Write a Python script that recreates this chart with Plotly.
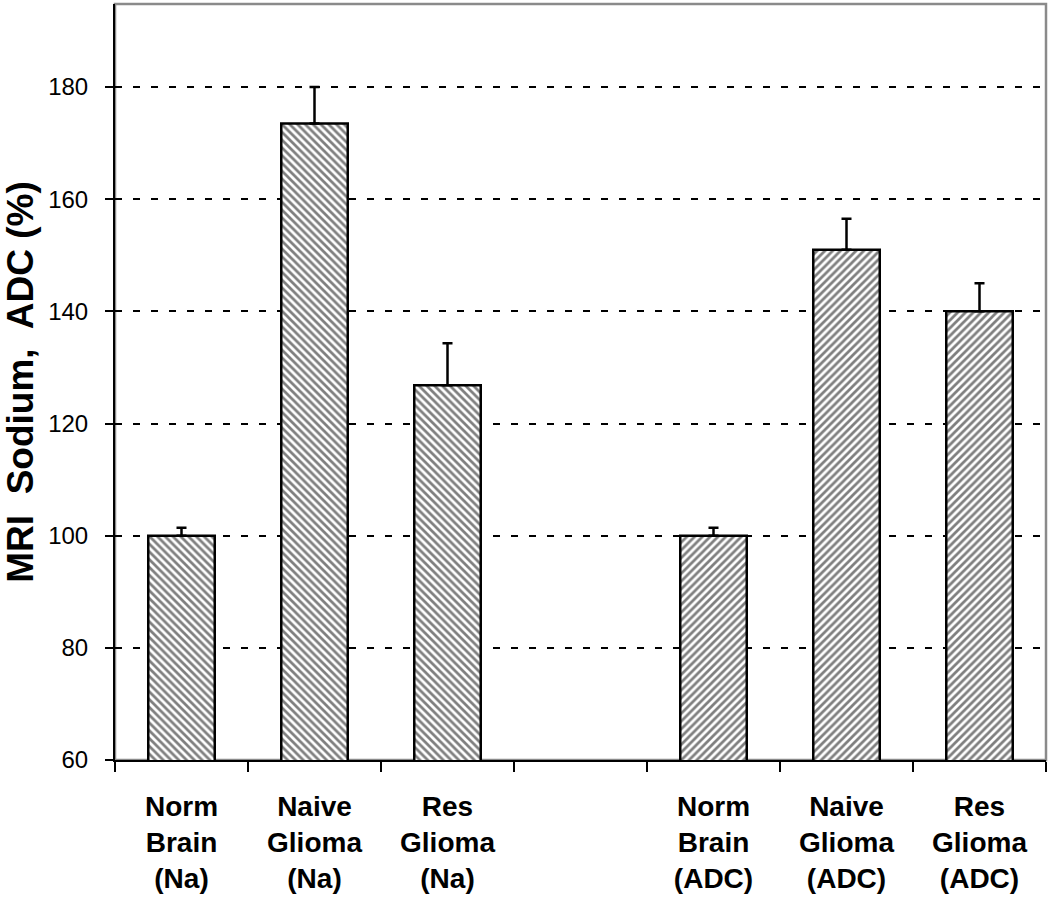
import plotly.graph_objects as go

categories = ["Norm<br>Brain<br>(Na)", "Naive<br>Glioma<br>(Na)", "Res<br>Glioma<br>(Na)", " ",
              "Norm<br>Brain<br>(ADC)", "Naive<br>Glioma<br>(ADC)", "Res<br>Glioma<br>(ADC)"]
values = [100.0, 173.5, 126.8, None, 100.0, 151.0, 140.0]
errors = [1.4, 6.5, 7.5, None, 1.4, 5.5, 5.0]
patterns = ["\\", "\\", "\\", "", "/", "/", "/"]

fig = go.Figure()
fig.add_trace(go.Bar(
    x=categories, y=values, width=0.5,
    marker=dict(color="white", line=dict(color="black", width=2.5),
                pattern=dict(shape=patterns, fgcolor="black", bgcolor="white",
                             size=5.5, solidity=0.5, fillmode="overlay")),
    error_y=dict(type="data", array=errors, arrayminus=[0 if e is not None else None for e in errors],
                 symmetric=False, color="black", thickness=2.5, width=5),
    showlegend=False,
))

fig.add_shape(type="rect", xref="paper", yref="paper", x0=0, x1=1, y0=0, y1=1,
              line=dict(color="#8a8a8a", width=2.5), layer="below")

fig.update_layout(
    width=1050, height=901,
    margin=dict(l=115, r=4, t=4, b=141),
    paper_bgcolor="white", plot_bgcolor="white",
    font=dict(family="Liberation Sans, Arial, sans-serif", color="black"),
    xaxis=dict(type="category", tickson="boundaries", ticks="outside", ticklen=10, tickwidth=1.5,
               tickcolor="black", showline=True, linecolor="black", linewidth=2, automargin=False,
               showgrid=False, tickfont=dict(size=28, weight="bold"), ticklabelstandoff=20),
    yaxis=dict(range=[60, 194.8], dtick=20, tick0=60, ticks="outside", ticklen=8, tickwidth=1.5,
               tickcolor="black", showline=True, linecolor="black", linewidth=2, automargin=False,
               showgrid=True, gridcolor="black", gridwidth=2, griddash="7px,11px",
               zeroline=False, tickfont=dict(size=24), ticklabelstandoff=12,
               title=dict(text="MRI&nbsp; Sodium,&nbsp; ADC (%)", font=dict(size=37, weight="bold"),
                          standoff=24)),
    bargap=0.5,
)

fig.write_html("out.html", config={"displayModeBar": False},
               post_script="document.body.style.margin='0';document.body.style.overflow='hidden';")
